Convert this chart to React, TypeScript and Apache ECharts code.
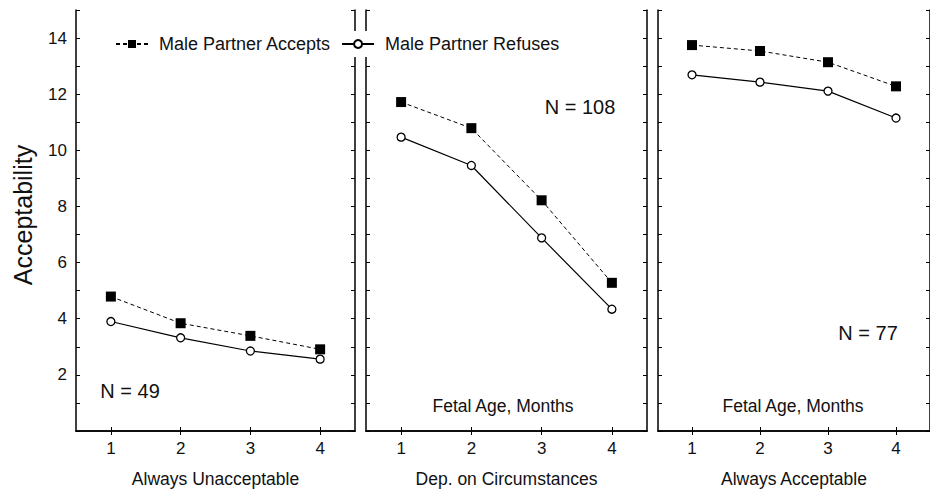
import React, { useEffect, useRef } from "react";
import * as echarts from "echarts";

// ---- Data ----
const categories = ["1", "2", "3", "4"];
const panelTitles = ["Always Unacceptable", "Dep. on Circumstances", "Always Acceptable"];
const seriesNames = ["Male Partner Accepts", "Male Partner Refuses"];
const acceptsUnacceptable = [4.79, 3.84, 3.39, 2.91];
const refusesUnacceptable = [3.9, 3.32, 2.85, 2.56];
const acceptsCircumstances = [11.72, 10.79, 8.22, 5.28];
const refusesCircumstances = [10.47, 9.46, 6.88, 4.34];
const acceptsAcceptable = [13.75, 13.54, 13.14, 12.28];
const refusesAcceptable = [12.69, 12.43, 12.11, 11.15];
const yTickLabels = [2, 4, 6, 8, 10, 12, 14];
const nLabels = ["N = 49", "N = 108", "N = 77"];
const innerLabel = "Fetal Age, Months";
const yTitle = "Acceptability";

const FONT = "'Liberation Sans', Arial, sans-serif";
const TXT = "#111";

export default function App() {
  const ref = useRef<HTMLDivElement>(null);

  useEffect(() => {
    document.body.style.margin = "0";
    const chart = echarts.init(ref.current!, null, { renderer: "svg" });

    const grids = [
      { left: 76, top: 10, width: 279, height: 422 },
      { left: 366, top: 10, width: 281, height: 422 },
      { left: 658, top: 10, width: 281, height: 422 },
    ];
    const accepts = [acceptsUnacceptable, acceptsCircumstances, acceptsAcceptable];
    const refuses = [refusesUnacceptable, refusesCircumstances, refusesAcceptable];

    const axisLine = { show: true, lineStyle: { color: "#000", width: 1.5 } };
    const tick = { show: true, inside: true, length: 4, lineStyle: { color: "#000", width: 1 } };

    const xAxis: any[] = [];
    const yAxis: any[] = [];
    const series: any[] = [];

    grids.forEach((g, i) => {
      // bottom
      xAxis.push({
        type: "category",
        gridIndex: i,
        data: categories,
        position: "bottom",
        boundaryGap: true,
        axisLine,
        axisTick: { ...tick, alignWithLabel: true },
        axisLabel: { show: true, margin: 9, fontSize: 17, color: TXT, fontFamily: FONT },
        splitLine: { show: false },
        name: panelTitles[i],
        nameLocation: "middle",
        nameGap: 39,
        nameTextStyle: { fontSize: 17.5, color: TXT, fontFamily: FONT },
      });
      // top
      xAxis.push({
        type: "category",
        gridIndex: i,
        data: categories,
        position: "top",
        boundaryGap: true,
        axisLine,
        axisTick: { ...tick, alignWithLabel: true },
        axisLabel: { show: false },
        splitLine: { show: false },
      });
      // left
      yAxis.push({
        type: "value",
        gridIndex: i,
        min: 0,
        max: 15,
        interval: 1,
        position: "left",
        axisLine,
        axisTick: tick,
        axisLabel: {
          show: i === 0,
          margin: 9,
          fontSize: 17,
          color: TXT,
          fontFamily: FONT,
          formatter: (v: number) => (yTickLabels.indexOf(v) >= 0 ? String(v) : ""),
        },
        splitLine: { show: false },
      });
      // right
      yAxis.push({
        type: "value",
        gridIndex: i,
        min: 0,
        max: 15,
        interval: 1,
        position: "right",
        axisLine,
        axisTick: tick,
        axisLabel: { show: false },
        splitLine: { show: false },
      });

      series.push({
        name: seriesNames[0],
        type: "line",
        xAxisIndex: i * 2,
        yAxisIndex: i * 2,
        data: accepts[i],
        symbol: "rect",
        symbolSize: 10,
        itemStyle: { color: "#000" },
        lineStyle: { color: "#000", width: 1, type: [4, 3] },
        z: 3,
      });
      series.push({
        name: seriesNames[1],
        type: "line",
        xAxisIndex: i * 2,
        yAxisIndex: i * 2,
        data: refuses[i],
        symbol: "circle",
        symbolSize: 8,
        itemStyle: { color: "#fff", borderColor: "#000", borderWidth: 1.3 },
        lineStyle: { color: "#000", width: 1.2, type: "solid" },
        z: 4,
      });
    });

    const textStyle = (size: number) => ({
      fontSize: size,
      fontFamily: FONT,
      fill: TXT,
      align: "center",
      verticalAlign: "middle",
    });

    chart.setOption({
      animation: false,
      backgroundColor: "#fff",
      grid: grids,
      xAxis,
      yAxis,
      series,
      legend: {
        data: seriesNames,
        left: 113,
        top: 31,
        orient: "horizontal",
        backgroundColor: "#fff",
        padding: [4, 6, 4, 2],
        itemWidth: 32,
        itemHeight: 10,
        itemGap: 10,
        selectedMode: false,
        textStyle: { fontSize: 18, color: TXT, fontFamily: FONT, padding: [0, 0, 0, 6] },
        z: 10,
      },
      graphic: [
        {
          type: "text",
          x: 22.5,
          y: 215,
          rotation: Math.PI / 2,
          style: { text: yTitle, ...textStyle(25) },
        },
        { type: "text", x: 130, y: 391, style: { text: nLabels[0], ...textStyle(20) } },
        { type: "text", x: 580, y: 107, style: { text: nLabels[1], ...textStyle(20) } },
        { type: "text", x: 868, y: 333, style: { text: nLabels[2], ...textStyle(20) } },
        { type: "text", x: 503, y: 406, style: { text: innerLabel, ...textStyle(17.5) } },
        { type: "text", x: 793, y: 406, style: { text: innerLabel, ...textStyle(17.5) } },
      ],
    });

    return () => chart.dispose();
  }, []);

  return (
    <div
      ref={ref}
      style={{ position: "fixed", left: 0, top: 0, width: 930, height: 493 }}
    />
  );
}
